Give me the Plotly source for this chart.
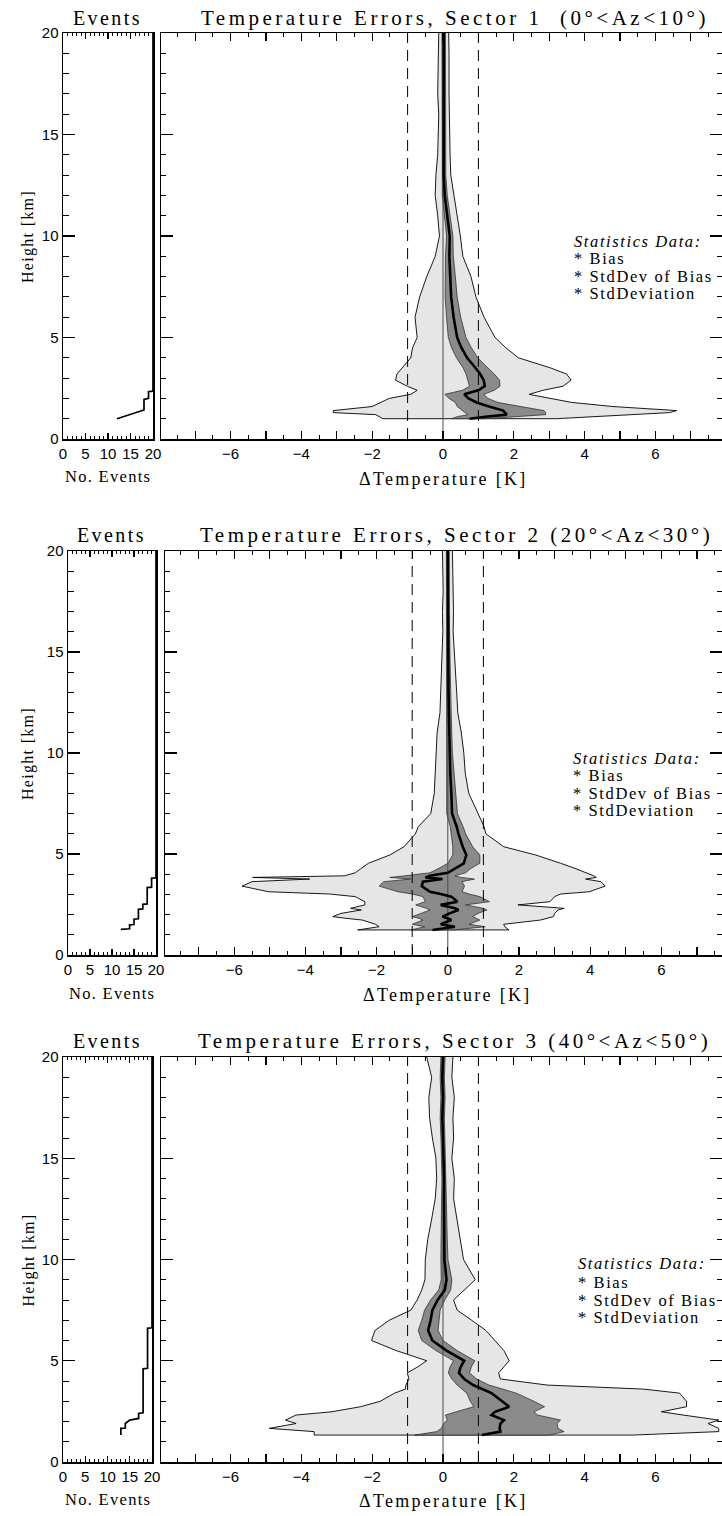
import plotly.graph_objects as go

# ---------------- data ----------------
sector_titles = ["Temperature Errors, Sector 1\u00a0\u00a0(0\u00b0<Az<10\u00b0)",
                 "Temperature Errors, Sector 2 (20\u00b0<Az<30\u00b0)",
                 "Temperature Errors, Sector 3 (40\u00b0<Az<50\u00b0)"]

# Sector 1: height [km], stddev envelope (left/right), bias, std-dev of bias
h1 = [20, 19, 18, 17, 16, 15, 14, 13, 12, 11, 10, 9, 8, 7, 6, 5, 4.5, 4, 3.5, 3.2, 2.9, 2.6, 2.4, 2.2, 2.0, 1.8, 1.6, 1.4, 1.3, 1.2, 1.1, 1.0]
std_lo1 = [-0.12, -0.13, -0.12, -0.15, -0.12, -0.13, -0.15, -0.20, -0.22, -0.15, -0.10, -0.22, -0.46, -0.66, -0.79, -0.73, -0.86, -0.91, -1.16, -1.30, -1.34, -1.01, -0.73, -0.91, -1.52, -1.77, -2.0, -3.1, -3.1, -1.9, -1.8, -1.7]
std_hi1 = [0.16, 0.17, 0.18, 0.17, 0.18, 0.20, 0.20, 0.22, 0.32, 0.40, 0.49, 0.56, 0.79, 0.93, 1.16, 1.47, 1.77, 2.13, 3.04, 3.49, 3.62, 3.39, 2.83, 2.43, 3.04, 3.64, 4.8, 6.6, 6.4, 5.1, 4.2, 3.2]
bias1 = [0.02, 0.02, 0.03, 0.01, 0.03, 0.03, 0.03, 0.02, 0.05, 0.12, 0.19, 0.18, 0.21, 0.23, 0.30, 0.40, 0.52, 0.68, 0.92, 1.05, 1.15, 1.18, 1.0, 0.6, 0.72, 0.95, 1.3, 1.7, 1.75, 1.8, 1.2, 0.75]
sdb1 = [0.05, 0.05, 0.05, 0.05, 0.05, 0.05, 0.05, 0.06, 0.07, 0.08, 0.09, 0.11, 0.14, 0.17, 0.2, 0.25, 0.28, 0.3, 0.35, 0.4, 0.45, 0.43, 0.45, 0.55, 0.55, 0.6, 0.9, 1.15, 1.15, 1.1, 0.8, 0.5]

# Sector 2
h2 = [20, 19, 18, 17, 16, 15, 14, 13, 12, 11, 10, 9, 8, 7, 6.35, 6.0, 5.36, 4.95, 4.54, 4.29, 4.07, 3.92, 3.84, 3.76, 3.63, 3.41, 3.13, 3.02, 2.89, 2.64, 2.48, 2.31, 2.23, 2.06, 1.90, 1.81, 1.73, 1.52, 1.40, 1.24]
std_lo2 = [-0.15, -0.14, -0.13, -0.15, -0.14, -0.16, -0.18, -0.20, -0.22, -0.30, -0.33, -0.35, -0.38, -0.48, -0.83, -0.91, -1.23, -1.63, -2.23, -2.43, -2.6, -2.9, -5.48, -3.88, -5.5, -5.78, -5.03, -3.33, -2.6, -2.33, -2.33, -2.73, -2.43, -3.0, -3.23, -2.83, -2.4, -2.03, -1.93, -2.53]
std_hi2 = [0.13, 0.14, 0.14, 0.16, 0.15, 0.18, 0.22, 0.25, 0.28, 0.38, 0.45, 0.49, 0.59, 0.85, 1.02, 1.07, 1.57, 2.47, 3.17, 3.57, 3.9, 4.1, 4.17, 3.87, 4.3, 4.42, 3.97, 3.17, 3.0, 2.87, 1.97, 3.27, 3.1, 3.0, 2.97, 2.8, 2.6, 1.57, 1.6, 1.72]
bias2 = [0.0, 0.0, 0.0, 0.0, 0.0, 0.01, 0.02, 0.02, 0.03, 0.04, 0.05, 0.07, 0.1, 0.12, 0.25, 0.3, 0.42, 0.52, 0.45, 0.2, 0.0, -0.5, -0.63, -0.15, -0.7, -0.73, -0.5, -0.2, 0.1, 0.27, -0.2, 0.2, 0.3, 0.05, -0.15, 0.0, 0.1, -0.2, 0.2, -0.43]
sdb2 = [0.04, 0.04, 0.04, 0.04, 0.04, 0.05, 0.05, 0.05, 0.06, 0.07, 0.08, 0.1, 0.12, 0.15, 0.18, 0.2, 0.28, 0.38, 0.45, 0.45, 0.5, 0.7, 1.0, 0.9, 1.1, 1.2, 0.9, 0.8, 0.8, 0.9, 0.7, 0.8, 0.8, 0.8, 0.85, 0.8, 0.8, 0.8, 0.85, 0.6]

# Sector 3
h3 = [20, 19, 18, 17, 16, 15, 14, 13, 12, 11, 10, 9, 8.5, 8, 7.5, 7, 6.5, 6.0, 5.5, 5.0, 4.7, 4.4, 4.1, 3.8, 3.6, 3.4, 3.0, 2.73, 2.48, 2.32, 2.07, 1.9, 1.66, 1.5, 1.33]
std_lo3 = [-0.46, -0.32, -0.40, -0.38, -0.30, -0.20, -0.18, -0.22, -0.32, -0.43, -0.50, -0.51, -0.6, -0.73, -0.91, -1.52, -1.92, -2.02, -1.32, -0.46, -0.71, -1.01, -0.96, -1.05, -1.06, -1.37, -1.77, -2.33, -3.14, -4.15, -4.45, -4.15, -4.91, -3.64, -3.64]
std_hi3 = [0.28, 0.25, 0.32, 0.28, 0.30, 0.25, 0.32, 0.30, 0.40, 0.49, 0.58, 0.91, 0.6, 0.30, 0.40, 0.81, 1.21, 1.47, 1.72, 1.87, 1.72, 1.57, 1.62, 2.94, 5.67, 6.68, 6.88, 6.88, 6.17, 6.78, 7.79, 7.49, 7.79, 7.79, 5.36]
bias3 = [0.0, -0.02, 0.0, -0.02, 0.0, 0.02, 0.03, 0.03, 0.03, 0.03, 0.04, 0.1, 0.05, -0.15, -0.3, -0.35, -0.42, -0.3, 0.1, 0.6, 0.5, 0.45, 0.6, 0.85, 1.1, 1.37, 1.67, 1.87, 1.47, 1.37, 1.72, 1.62, 1.6, 1.62, 1.1]
sdb3 = [0.06, 0.06, 0.06, 0.06, 0.06, 0.06, 0.06, 0.07, 0.08, 0.09, 0.1, 0.15, 0.17, 0.2, 0.22, 0.25, 0.28, 0.3, 0.3, 0.3, 0.3, 0.3, 0.35, 0.45, 0.55, 0.7, 0.9, 1.0, 1.1, 1.3, 1.6, 1.6, 1.65, 1.8, 1.9]

# Number of events vs height
ev_h1 = [1.0, 1.43, 1.95, 2.0, 2.33, 2.36, 20]
ev_n1 = [12, 18, 18, 19, 19, 20, 20]
ev_h2 = [1.27, 1.30, 1.49, 1.51, 1.77, 1.79, 2.26, 2.28, 2.51, 2.53, 3.34, 3.36, 3.80, 3.82, 20]
ev_n2 = [12, 14, 14, 15, 15, 16, 16, 17, 17, 18, 18, 19, 19, 20, 20]
ev_h3 = [1.33, 1.66, 1.68, 1.9, 2.07, 2.15, 2.40, 2.43, 4.6, 4.63, 6.6, 6.63, 20]
ev_n3 = [13, 13, 14, 14, 15, 17, 17, 18, 18, 19, 19, 20, 20]

threshold = [-1, 1]
legend_lines = ["<i>Statistics Data:</i>", "* Bias", "* StdDev of Bias", "* StdDeviation"]

sectors = [
    (h1, std_lo1, std_hi1, bias1, sdb1, ev_h1, ev_n1),
    (h2, std_lo2, std_hi2, bias2, sdb2, ev_h2, ev_n2),
    (h3, std_lo3, std_hi3, bias3, sdb3, ev_h3, ev_n3),
]

# ---------------- layout geometry (pixels) ----------------
W, H = 722, 1516
geom = [
    dict(ev=(63, 153), main=(161, 722), y=(33, 439), zero=443, ppu=35.4, title_y=18, xt_y=477, legend_x=572, legend_y=[241, 258, 276, 293], title_x=455),
    dict(ev=(68, 156), main=(165, 722), y=(551, 955), zero=447.8, ppu=35.6, title_y=535, xt_y=993, legend_x=571, legend_y=[758, 775, 793, 810], title_x=456),
    dict(ev=(63, 152), main=(161, 722), y=(1057, 1462), zero=443, ppu=35.4, title_y=1041, xt_y=1499, legend_x=576, legend_y=[1263, 1282, 1300, 1317], title_x=454),
]

def fx(p):
    return p / W

def fy(p):
    return 1 - p / H

def spaced(txt, sp):
    return f'<span style="letter-spacing:{sp}px">{txt}</span>'

SERIF = "Liberation Serif"
SANS = "Liberation Sans"

fig = go.Figure()
layout = dict(width=W, height=H, margin=dict(l=0, r=0, t=0, b=0),
              paper_bgcolor="white", plot_bgcolor="white", showlegend=False,
              hovermode=False)
annotations = []

for i, (g, sec) in enumerate(zip(geom, sectors)):
    h, lo, hi, b, s, eh, en = sec
    ea, ma = 2 * i + 1, 2 * i + 2
    exn, eyn = f"x{ea}", f"y{ea}"
    mxn, myn = f"x{ma}", f"y{ma}"

    fig.add_trace(go.Scatter(x=en, y=eh, xaxis=exn, yaxis=eyn, mode="lines",
                             line=dict(color="black", width=1.7), hoverinfo="skip"))
    fig.add_trace(go.Scatter(x=lo + hi[::-1], y=h + h[::-1], xaxis=mxn, yaxis=myn,
                             mode="lines", fill="toself", fillcolor="#e6e6e6",
                             line=dict(color="black", width=0.9), hoverinfo="skip"))
    dl = [bb - ss for bb, ss in zip(b, s)]
    dr = [bb + ss for bb, ss in zip(b, s)]
    fig.add_trace(go.Scatter(x=dl + dr[::-1], y=h + h[::-1], xaxis=mxn, yaxis=myn,
                             mode="lines", fill="toself", fillcolor="#8a8a8a",
                             line=dict(color="#222222", width=0.7), hoverinfo="skip"))
    fig.add_trace(go.Scatter(x=[0, 0], y=[0, 20], xaxis=mxn, yaxis=myn, mode="lines",
                             line=dict(color="#4a4a4a", width=1), hoverinfo="skip"))
    for t in threshold:
        fig.add_trace(go.Scatter(x=[t, t], y=[0, 20], xaxis=mxn, yaxis=myn, mode="lines",
                                 line=dict(color="black", width=1, dash="11px,7px"),
                                 hoverinfo="skip"))
    fig.add_trace(go.Scatter(x=b, y=h, xaxis=mxn, yaxis=myn, mode="lines",
                             line=dict(color="black", width=2.6), hoverinfo="skip"))

    ydom = [fy(g["y"][1]), fy(g["y"][0])]
    common = dict(showgrid=False, zeroline=False, showline=True, linecolor="black",
                  linewidth=1.5, ticks="inside", tickcolor="black", tickwidth=1.2,
                  automargin=False,
                  tickfont=dict(family=SANS, size=15, color="black"))
    layout[f"xaxis{ea}"] = dict(common, domain=[fx(g["ev"][0]), fx(g["ev"][1])], anchor=eyn,
                                range=[0, 20], tickvals=[0, 5, 10, 15, 20], ticklen=6,
                                mirror="ticks",
                                minor=dict(dtick=1, ticklen=3, ticks="inside", tickcolor="black", tickwidth=1))
    layout[f"yaxis{ea}"] = dict(common, domain=ydom, anchor=exn, range=[0, 20],
                                tickvals=[0, 5, 10, 15, 20], ticklen=12, mirror=True,
                                minor=dict(dtick=1, ticklen=6, ticks="inside", tickcolor="black", tickwidth=1))
    xr = [(g["main"][0] - g["zero"]) / g["ppu"], (g["main"][1] - g["zero"]) / g["ppu"]]
    tv = list(range(-7, 8))
    layout[f"xaxis{ma}"] = dict(common, domain=[fx(g["main"][0]), fx(g["main"][1])], anchor=myn,
                                range=xr, tickvals=tv,
                                ticktext=[(str(v).replace("-", "\u2212") if v % 2 == 0 else "") for v in tv],
                                ticklen=8, mirror="ticks",
                                minor=dict(dtick=0.5, ticklen=4, ticks="inside", tickcolor="black", tickwidth=1))
    layout[f"yaxis{ma}"] = dict(common, domain=ydom, anchor=mxn, range=[0, 20],
                                tickvals=[0, 5, 10, 15, 20], ticklen=12, mirror="ticks",
                                showticklabels=False,
                                minor=dict(dtick=1, ticklen=5, ticks="inside", tickcolor="black", tickwidth=1))

    evc = (g["ev"][0] + g["ev"][1]) / 2
    base = dict(xref="paper", yref="paper", showarrow=False)
    annotations.append(dict(base, x=fx(evc), y=fy(g["title_y"]), text=spaced("Events", 2.4),
                            font=dict(family=SERIF, size=20, color="black"),
                            xanchor="center", yanchor="middle"))
    annotations.append(dict(base, x=fx(g["title_x"]), y=fy(g["title_y"]), text=spaced(sector_titles[i], 3.5),
                            font=dict(family=SERIF, size=21, color="black"),
                            xanchor="center", yanchor="middle"))
    annotations.append(dict(base, x=fx(evc), y=fy(g["xt_y"]), text=spaced("No. Events", 1.3),
                            font=dict(family=SERIF, size=16.5, color="black"),
                            xanchor="center", yanchor="middle"))
    annotations.append(dict(base, x=fx(g["zero"]), y=fy(g["xt_y"] + 2), text=spaced("\u0394Temperature [K]", 2.3),
                            font=dict(family=SERIF, size=18, color="black"),
                            xanchor="center", yanchor="middle"))
    annotations.append(dict(base, x=fx(28), y=fy((g["y"][0] + g["y"][1]) / 2), text=spaced("Height [km]", 1.3),
                            textangle=-90, font=dict(family=SERIF, size=16, color="black"),
                            xanchor="center", yanchor="middle"))
    for txt, ly in zip(legend_lines, g["legend_y"]):
        annotations.append(dict(base, x=fx(g["legend_x"]), y=fy(ly), text=spaced(txt, 1.6),
                                font=dict(family=SERIF, size=16.5, color="black"),
                                xanchor="left", yanchor="middle"))

layout["annotations"] = annotations
fig.update_layout(**layout)
fig.write_html("out.html", config={"displayModeBar": False, "staticPlot": True},
               post_script="document.body.style.margin='0';document.body.style.overflow='hidden';")
